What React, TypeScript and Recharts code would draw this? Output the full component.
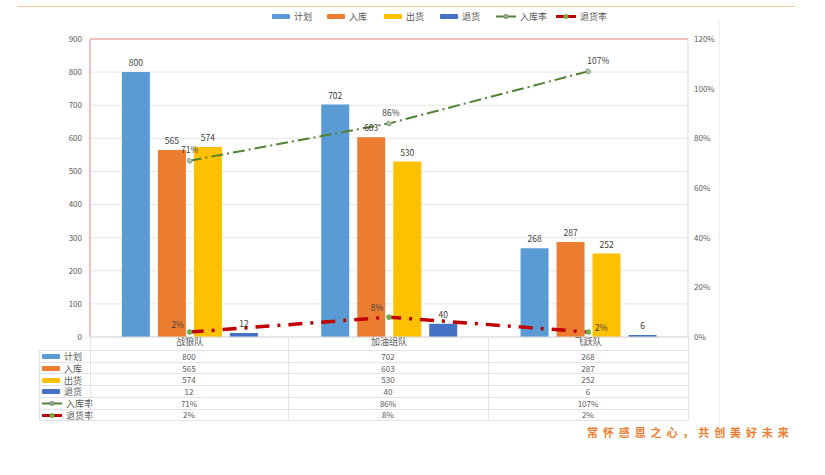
import React from 'react';
import { ComposedChart, Bar, Line, XAxis, YAxis, CartesianGrid, ReferenceLine, LabelList } from 'recharts';

const categories = ['战狼队', '加油组队', '飞跃队'];
const planValues = [800, 702, 268];
const inboundValues = [565, 603, 287];
const outboundValues = [574, 530, 252];
const returnValues = [12, 40, 6];
const inboundRate = [71, 86, 107];
const returnRate = [2, 8, 2];
const leftTicks = [0, 100, 200, 300, 400, 500, 600, 700, 800, 900];
const rightTicks = [0, 20, 40, 60, 80, 100, 120];
const seriesNames = ['计划', '入库', '出货', '退货', '入库率', '退货率'];
const seriesColors = ['#5B9BD5', '#ED7D31', '#FFC000', '#4472C4', '#548235', '#C00000'];
const motto = '常怀感恩之心，共创美好未来';

const data = categories.map((c, i) => ({
  name: c,
  plan: planValues[i],
  inbound: inboundValues[i],
  outbound: outboundValues[i],
  ret: returnValues[i],
  inRate: inboundRate[i],
  retRate: returnRate[i],
}));

const tableRows = [
  { name: seriesNames[0], color: seriesColors[0], kind: 'bar', values: planValues.map(String) },
  { name: seriesNames[1], color: seriesColors[1], kind: 'bar', values: inboundValues.map(String) },
  { name: seriesNames[2], color: seriesColors[2], kind: 'bar', values: outboundValues.map(String) },
  { name: seriesNames[3], color: seriesColors[3], kind: 'bar', values: returnValues.map(String) },
  { name: seriesNames[4], color: seriesColors[4], kind: 'line', values: inboundRate.map((v) => v + '%') },
  { name: seriesNames[5], color: seriesColors[5], kind: 'line', values: returnRate.map((v) => v + '%') },
];

const FONT = '"Noto Sans CJK SC", "Noto Sans", sans-serif';
const TXT = '#595959';

const Icon = ({ color, kind, dotColor }: { color: string; kind: string; dotColor?: string }) => {
  if (kind === 'bar') {
    return <div style={{ width: 18, height: 5, background: color, borderRadius: 1 }} />;
  }
  return (
    <svg width={20} height={7}>
      <line x1={0} y1={3.5} x2={20} y2={3.5} stroke={color} strokeWidth={color === '#C00000' ? 3 : 2} />
      <circle cx={10} cy={3.5} r={2.2} fill={dotColor || '#8FB08C'} stroke={dotColor ? dotColor : '#6a6a6a'} strokeWidth={0.6} />
    </svg>
  );
};

const retLabelOffsets = [
  { dx: -12, dy: -6 },
  { dx: -12, dy: -8 },
  { dx: 13, dy: -3 },
];

const RetLabel = (props: any) => {
  const { x, y, value, index } = props;
  const o = retLabelOffsets[index] || { dx: 0, dy: -8 };
  return (
    <text x={x + o.dx} y={y + o.dy} fontSize={8.5} fill="#404040" textAnchor="middle" dominantBaseline="middle">
      {value}%
    </text>
  );
};

const InLabel = (props: any) => {
  const { x, y, value, index } = props;
  const dx = index === 2 ? 10 : index === 1 ? 2 : 0;
  return (
    <text x={x + dx} y={y - 10} fontSize={8.5} fill="#404040" textAnchor="middle" dominantBaseline="middle">
      {value}%
    </text>
  );
};

const legendX = [272, 327, 384, 440, 496, 556];

export default function App() {
  const colEdges = [90, 288, 488, 688];
  const rowTop = 350;
  const rowH = 11.7;
  return (
    <div style={{ position: 'absolute', left: 0, top: 0, width: 825, height: 475, background: '#fff', fontFamily: FONT, overflow: 'hidden' }}>
      <div style={{ position: 'absolute', left: 18, top: 6, width: 777, height: 1, background: '#F8C9A0' }} />
      <div style={{ position: 'absolute', left: 719, top: 20, width: 1, height: 405, background: '#F0F0F0' }} />

      {seriesNames.map((n, i) => (
        <div key={n} style={{ position: 'absolute', left: legendX[i], top: 10, height: 12, display: 'flex', alignItems: 'center', gap: 4, fontSize: 9, color: TXT }}>
          <Icon color={seriesColors[i]} kind={i < 4 ? 'bar' : 'line'} dotColor={i === 5 ? '#70AD47' : undefined} />
          <span>{n}</span>
        </div>
      ))}

      <ComposedChart
        width={825}
        height={475}
        data={data}
        margin={{ top: 39, right: 87, bottom: 125, left: 40 }}
        barCategoryGap="16%"
        barGap={8}
      >
        <CartesianGrid horizontal vertical={false} stroke="#E6E6E6" yAxisId="left" />
        <XAxis
          dataKey="name"
          xAxisId={0}
          height={13}
          tickLine={false}
          tickSize={0}
          tickMargin={2}
          axisLine={{ stroke: '#D9D9D9' }}
          tick={{ fontSize: 9, fill: TXT }}
        />
        <YAxis
          yAxisId="left"
          width={50}
          domain={[0, 900]}
          ticks={leftTicks}
          tickLine={false}
          axisLine={{ stroke: '#F08A8A' }}
          tick={{ fontSize: 8, fill: TXT }}
        />
        <YAxis
          yAxisId="right"
          orientation="right"
          width={50}
          domain={[0, 120]}
          ticks={rightTicks}
          tickFormatter={(v: number) => v + '%'}
          tickLine={false}
          tickMargin={0}
          axisLine={{ stroke: '#D9D9D9' }}
          tick={{ fontSize: 8, fill: TXT }}
        />
        <ReferenceLine yAxisId="left" y={900} stroke="#F08A8A" strokeWidth={1} />
        <Bar yAxisId="left" dataKey="plan" fill={seriesColors[0]} isAnimationActive={false}>
          <LabelList dataKey="plan" position="top" fontSize={8.5} fill="#404040" offset={6} />
        </Bar>
        <Bar yAxisId="left" dataKey="inbound" fill={seriesColors[1]} isAnimationActive={false}>
          <LabelList dataKey="inbound" position="top" fontSize={8.5} fill="#404040" offset={6} />
        </Bar>
        <Bar yAxisId="left" dataKey="outbound" fill={seriesColors[2]} isAnimationActive={false}>
          <LabelList dataKey="outbound" position="top" fontSize={8.5} fill="#404040" offset={6} />
        </Bar>
        <Bar yAxisId="left" dataKey="ret" fill={seriesColors[3]} isAnimationActive={false}>
          <LabelList dataKey="ret" position="top" fontSize={8.5} fill="#404040" offset={6} />
        </Bar>
        <Line
          yAxisId="right"
          dataKey="inRate"
          stroke={seriesColors[4]}
          strokeWidth={2}
          strokeDasharray="12 4 2 4"
          dot={{ r: 2.5, fill: '#A9C4A0', stroke: '#777', strokeWidth: 0.6 }}
          isAnimationActive={false}
        >
          <LabelList dataKey="inRate" content={InLabel} />
        </Line>
        <Line
          yAxisId="right"
          dataKey="retRate"
          stroke={seriesColors[5]}
          strokeWidth={3.5}
          strokeDasharray="14 8 3 8"
          dot={{ r: 2.5, fill: '#70AD47', stroke: '#70AD47', strokeWidth: 0.6 }}
          isAnimationActive={false}
        >
          <LabelList dataKey="retRate" content={RetLabel} />
        </Line>
      </ComposedChart>

      {colEdges.map((x) => (
        <div key={'hv' + x} style={{ position: 'absolute', left: x, top: 337, width: 1, height: rowTop - 337, background: '#E3E3E3' }} />
      ))}

      {tableRows.map((r, ri) => (
        <div key={r.name} style={{ position: 'absolute', left: 39, top: rowTop + ri * rowH, width: 649, height: rowH, borderTop: '1px solid #E3E3E3', boxSizing: 'border-box' }}>
          <div style={{ position: 'absolute', left: 3, top: 0, height: rowH, display: 'flex', alignItems: 'center', gap: 4, fontSize: 9, color: TXT, lineHeight: 1 }}>
            <Icon color={r.color} kind={r.kind} dotColor={ri === 5 ? '#70AD47' : undefined} />
            <span>{r.name}</span>
          </div>
          {r.values.map((v, ci) => (
            <div key={ci} style={{ position: 'absolute', left: colEdges[ci] - 39, width: colEdges[ci + 1] - colEdges[ci], top: 0, height: rowH, display: 'flex', alignItems: 'center', justifyContent: 'center', fontSize: 8, color: TXT, lineHeight: 1 }}>
              {v}
            </div>
          ))}
        </div>
      ))}
      <div style={{ position: 'absolute', left: 39, top: rowTop + 6 * rowH, width: 649, height: 1, background: '#E3E3E3' }} />
      {[39, ...colEdges].map((x) => (
        <div key={'tv' + x} style={{ position: 'absolute', left: x, top: rowTop, width: 1, height: 6 * rowH, background: '#E3E3E3' }} />
      ))}

      <div style={{ position: 'absolute', left: 587, top: 424, fontSize: 11, fontWeight: 700, color: '#ED7D31', letterSpacing: 4.9, whiteSpace: 'nowrap' }}>
        {motto}
      </div>
    </div>
  );
}
